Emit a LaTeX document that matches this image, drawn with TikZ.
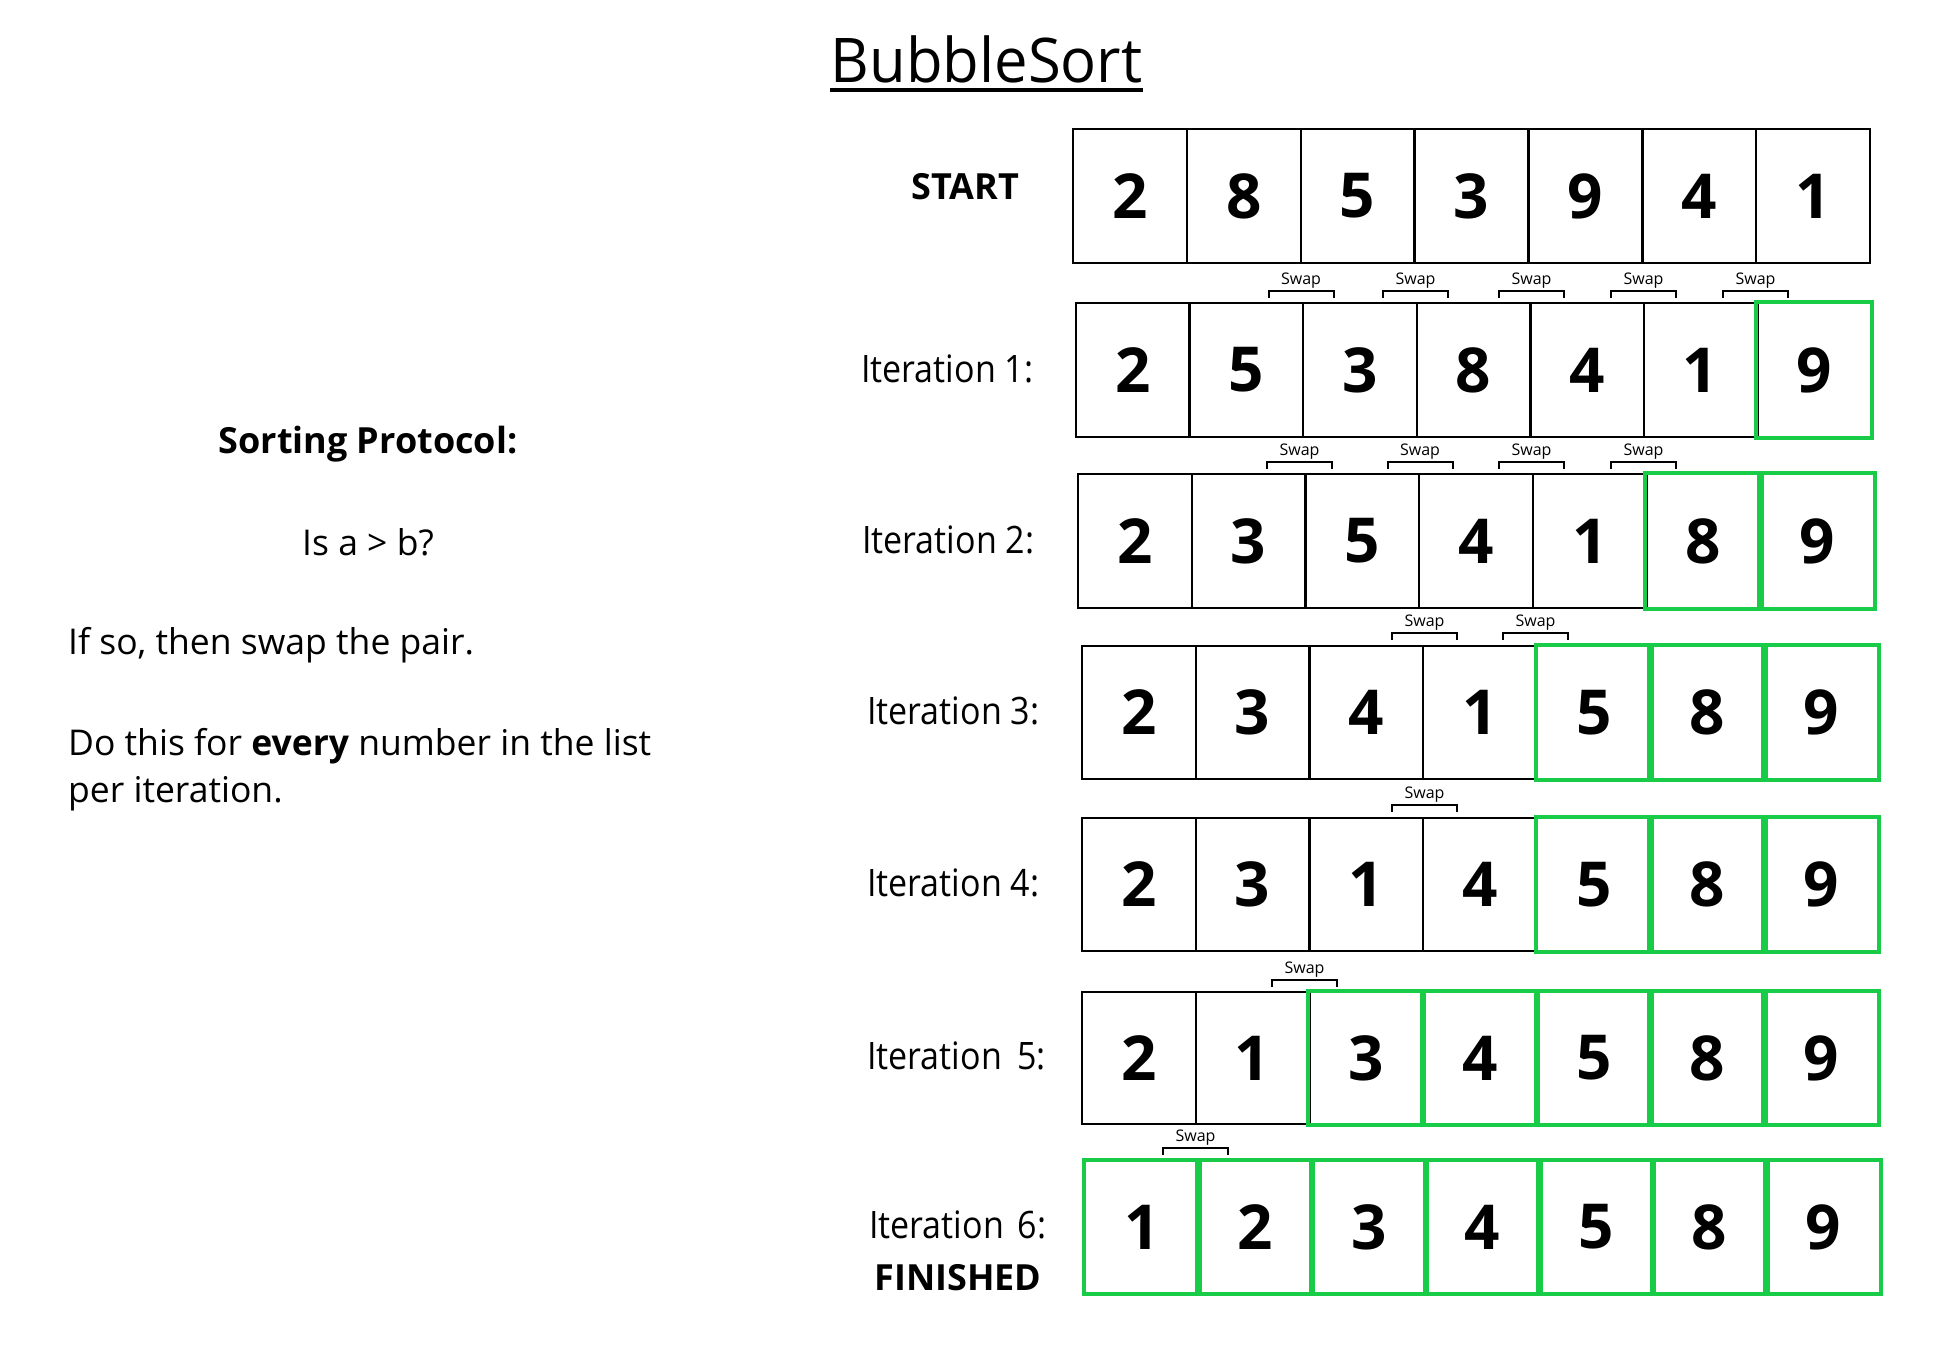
\documentclass[tikz,border=0pt]{standalone}
\usepackage{fontspec}
\setmainfont{Open Sans}
\usepackage{graphicx}
\definecolor{sortgreen}{RGB}{24,204,72}
\newcommand{\itlab}[1]{\scalebox{0.9}[1]{\fontsize{37.8}{40}\selectfont #1}}
\tikzset{
  cellbox/.style={draw=black, line width=2.4pt, inner sep=0pt,
    font=\fontsize{62}{62}\selectfont\bfseries},
  greenbox/.style={draw=sortgreen, line width=4pt},
  lab/.style={inner sep=0pt, font=\fontsize{35.5}{40}\selectfont},
  boldlab/.style={inner sep=0pt, font=\fontsize{36}{40}\selectfont\bfseries},
  rowlab/.style={inner sep=0pt, anchor=base west},
  swaplab/.style={inner sep=0pt, anchor=base, font=\fontsize{16}{18}\selectfont},
  bracket/.style={draw=black, line width=2pt}
}
\begin{document}
\begin{tikzpicture}[x=1pt,y=-1pt]
\fill[white] (0,0) rectangle (1958,1361);
\useasboundingbox (0,0) rectangle (1958,1361);

% title
\node[inner sep=0pt, anchor=base] (title) at (986.5,82)
  {\scalebox{0.97}[1]{\fontsize{61.6}{70}\selectfont BubbleSort}};
\draw[line width=4pt] ([yshift=-8pt]title.base west) -- ([yshift=-8pt]title.base east);

% left text
\node[boldlab, anchor=base] (sp) at (368,453) {Sorting Protocol:};
\node[lab, anchor=base] (isab) at (368,555) {Is a > b?};
\node[lab, anchor=base west] (ifso) at (68,654) {If so, then swap the pair.};
\node[lab, anchor=base west] (dothis) at (68,755) {Do this for \textbf{every} number in the list};
\node[lab, anchor=base west] (periter) at (68,802) {per iteration.};

% row labels
\node[boldlab, anchor=base] (start) at (965,199) {START};
\node[rowlab] (it1) at (861,382) {\itlab{Iteration 1:}};
\node[rowlab] (it2) at (862,553) {\itlab{Iteration 2:}};
\node[rowlab] (it3) at (867,724) {\itlab{Iteration 3:}};
\node[rowlab] (it4) at (867,896) {\itlab{Iteration 4:}};
\node[rowlab] (it5) at (867,1069) {\itlab{Iteration\hspace{0.45em}5:}};
\node[rowlab] (it6) at (869,1238) {\itlab{Iteration\hspace{0.4em}6:}};
\node[boldlab, anchor=base] (fin) at (958,1290) {FINISHED};

% cells
\foreach \r/\L/\R/\T/\B/\g/\digits in {
  0/1073/1870/129/263/8/{2,8,5,3,9,4,1},
  1/1076/1871/303/437/7/{2,5,3,8,4,1,9},
  2/1078/1874/474/608/6/{2,3,5,4,1,8,9},
  3/1082/1878/646/779/5/{2,3,4,1,5,8,9},
  4/1082/1878/818/951/5/{2,3,1,4,5,8,9},
  5/1082/1878/992/1124/3/{2,1,3,4,5,8,9},
  6/1085/1880/1161/1293/1/{1,2,3,4,5,8,9}}{
  \pgfmathsetmacro{\w}{(\R-\L)/7}
  \pgfmathsetmacro{\h}{\B-\T}
  \pgfmathsetmacro{\yc}{(\T+\B)/2}
  \foreach \d [count=\i] in \digits {
    \node[cellbox, minimum width=\w pt, minimum height=\h pt]
      (r\r-\i) at ({\L+(\i-0.5)*\w},\yc) {\d};
  }
  \foreach \i in {1,...,7} {
    \ifnum\i<\g\relax\else
      \draw[greenbox] (r\r-\i.north west) rectangle (r\r-\i.south east);
    \fi
  }
}

% swap brackets
\foreach \r/\y/\xs in {
  1/291/{1301,1415.5,1531.5,1643.5,1755.5},
  2/462/{1299.5,1420,1531.5,1643.5},
  3/633/{1424.5,1535.5},
  4/805/{1424.5},
  5/980/{1304.5},
  6/1148/{1195.5}}{
  \foreach \c [count=\k] in \xs {
    \node[swaplab] (s\r-\k) at (\c,\y-7) {Swap};
    \draw[bracket] (\c-32.5,\y+6.5) -- (\c-32.5,\y) -- (\c+32.5,\y) -- (\c+32.5,\y+6.5);
  }
}
\end{tikzpicture}
\end{document}
